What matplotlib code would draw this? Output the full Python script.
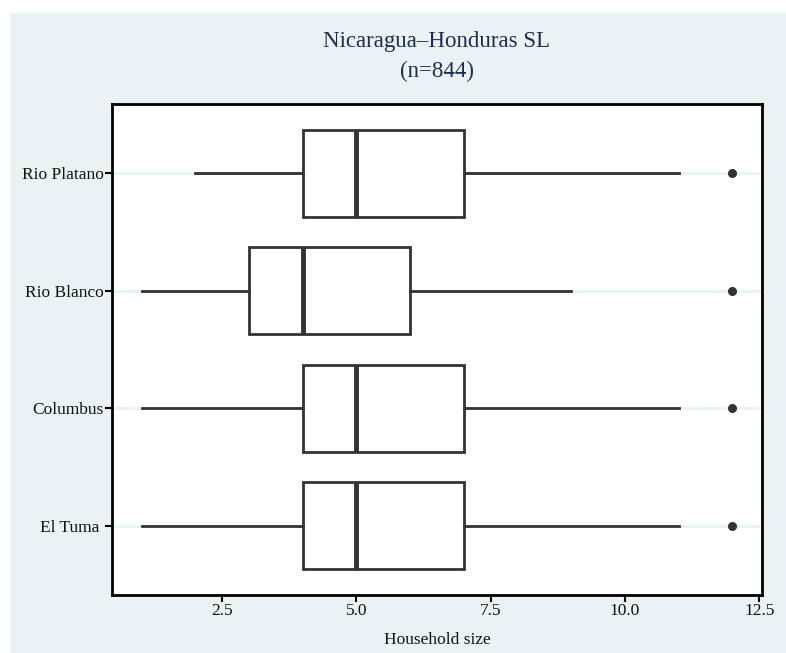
import matplotlib.pyplot as plt
from matplotlib.patches import Rectangle

# household size summary per site, top to bottom as drawn
sites = ["Rio Platano", "Rio Blanco", "Columbus", "El Tuma "]
whisker_lo = [2, 1, 1, 1]
q1 = [4, 3, 4, 4]
median = [5, 4, 5, 5]
q3 = [7, 6, 7, 7]
whisker_hi = [11, 9, 11, 11]
outliers = [[12], [12], [12], [12]]
x_ticks = [2.5, 5.0, 7.5, 10.0, 12.5]

BG = "#eaf2f3"
LINE = "#333333"
TITLE = "#1e2d53"

plt.rcParams["font.family"] = ["Liberation Serif", "DejaVu Serif"]

W, H = 786, 653
fig = plt.figure(figsize=(W / 100, H / 100), dpi=100)
fig.patch.set_facecolor("white")
fig.patches.append(
    Rectangle((10 / W, 0), 1 - 10 / W, 1 - 13 / H, transform=fig.transFigure,
              facecolor=BG, edgecolor="none", zorder=-10)
)

left, right, top, bottom = 112, 762, 104, 595
ax = fig.add_axes([left / W, 1 - bottom / H, (right - left) / W, (bottom - top) / H])
ax.set_facecolor("white")

stats = []
for i, name in enumerate(sites):
    stats.append({
        "label": name,
        "whislo": whisker_lo[i],
        "q1": q1[i],
        "med": median[i],
        "q3": q3[i],
        "whishi": whisker_hi[i],
        "fliers": outliers[i],
    })

n = len(sites)
positions = [n - i for i in range(n)]

for p in positions:
    ax.axhline(p, color=BG, lw=2, zorder=0)

ax.bxp(
    stats, positions=positions, vert=False, widths=0.74,
    showcaps=False, patch_artist=True,
    boxprops=dict(facecolor="white", edgecolor=LINE, linewidth=2),
    medianprops=dict(color=LINE, linewidth=3.5),
    whiskerprops=dict(color=LINE, linewidth=2),
    flierprops=dict(marker="o", markerfacecolor=LINE, markeredgecolor=LINE,
                    markersize=5.5),
    zorder=3,
)

ax.set_xlim(0.45, 12.55)
ax.set_ylim(0.41, n + 0.59)
ax.set_xticks(x_ticks)
ax.set_xticklabels([f"{t:.1f}" for t in x_ticks], fontsize=12.5, color="#111111")
ax.set_yticks(positions)
ax.set_yticklabels(sites, fontsize=12.5, color="#111111")
ax.tick_params(axis="both", direction="out", length=5, width=1.5, color="black", pad=1)

for s in ax.spines.values():
    s.set_linewidth(2)
    s.set_color("black")

ax.set_xlabel("Household size", fontsize=12.5, color="#111111", labelpad=9)

cx = (left + right) / 2 / W
fig.text(cx, 1 - 42 / H, "Nicaragua\u2013Honduras SL", ha="center", va="center",
         fontsize=16.5, color=TITLE)
fig.text(cx, 1 - 71 / H, "(n=844)", ha="center", va="center",
         fontsize=16.5, color=TITLE)

fig.savefig("out.png", dpi=100, facecolor=fig.get_facecolor())
